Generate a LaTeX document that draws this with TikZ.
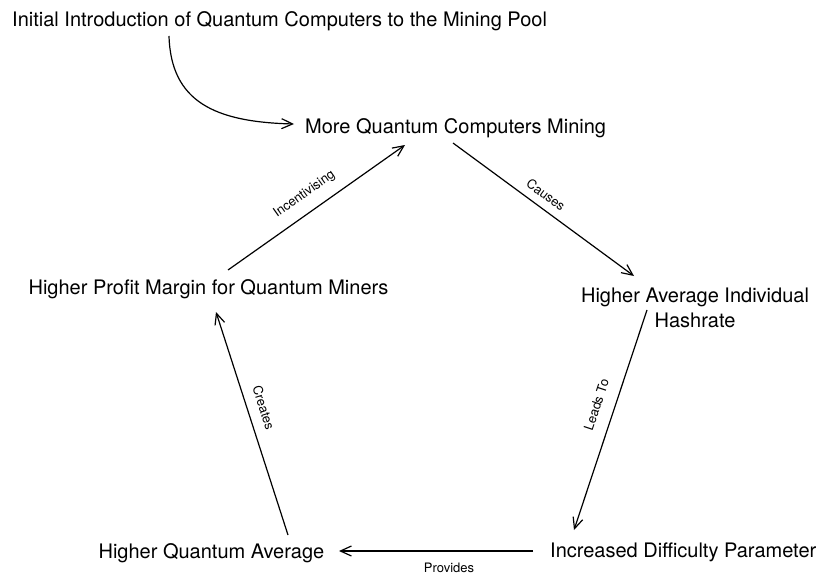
\documentclass[tikz,border=0pt]{standalone}
\usepackage{fontspec}
\setmainfont{TeX Gyre Heros}
\usetikzlibrary{arrows.meta,calc}
\tikzset{
  txt/.style={font=\fontsize{20}{25}\selectfont, inner sep=0pt, anchor=base west},
  lbl/.style={font=\fontsize{13}{15}\selectfont, sloped},
  arr/.style={draw=black, line width=1.2pt, -{Straight Barb[length=11pt,width=10pt,line width=1.2pt]}}
}
\begin{document}
\begin{tikzpicture}[x=1pt,y=-1pt]
\useasboundingbox (0,0) rectangle (816,575);
\node[txt] (init) at (12,26.5) {Initial Introduction of Quantum Computers to the Mining Pool};
\node[txt] (more) at (305,134) {More Quantum Computers Mining};
\node[txt, anchor=north, align=center] (hash) at (695,287.5) {Higher Average Individual\\Hashrate};
\node[txt] (prof) at (28.4,294) {Higher Profit Margin for Quantum Miners};
\node[txt] (qavg) at (98.4,558) {Higher Quantum Average};
\node[txt] (diff) at (550,557) {Increased Difficulty Parameter};

\draw[arr] ($(init.base west)+(157,9.5)$) .. controls +(2,66) and +(-79,-2) .. ($(more.base west)+(-11,-10)$);
\draw[arr] ($(prof.base west)+(199.6,-24)$) -- node[lbl, above, inner sep=11pt, pos=0.49] {Incentivising} ($(more.base west)+(100,11)$);
\draw[arr] ($(more.base west)+(148,9)$) -- node[lbl, above, inner sep=7.8pt, pos=0.47] {Causes} ($(hash.north)+(-61,-11.5)$);
\draw[arr] ($(hash.north)+(-48,22.5)$) -- node[lbl, above, inner sep=12.7pt, pos=0.457] {Leads To} ($(diff.base west)+(24,-27)$);
\draw[arr] ($(diff.base west)+(-17,-6)$) -- node[lbl, below, inner sep=11.7pt, pos=0.433] {Provides} ($(qavg.base west)+(240.6,-7)$);
\draw[arr] ($(qavg.base west)+(189.6,-23)$) -- node[lbl, above, inner sep=10.4pt, pos=0.548] {Creates} ($(prof.base west)+(187.6,18)$);
\end{tikzpicture}
\end{document}
